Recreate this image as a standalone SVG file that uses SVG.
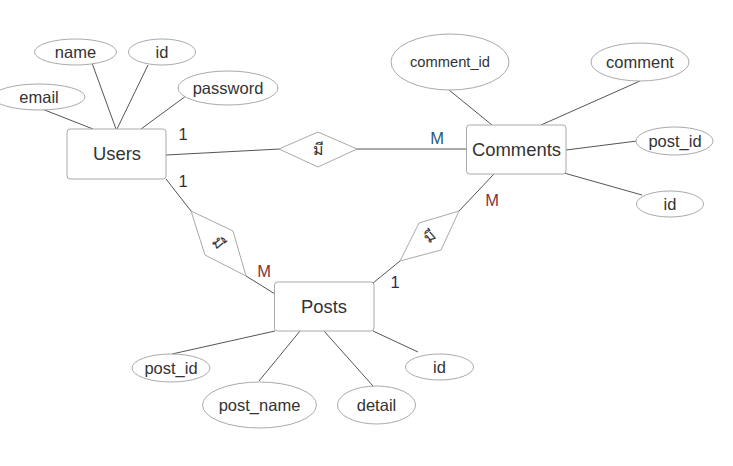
<svg xmlns="http://www.w3.org/2000/svg" width="733" height="466" viewBox="0 0 733 466">
<style>
text{font-family:"Liberation Sans",Arial,"Noto Sans",sans-serif;font-size:16.5px;fill:#333;text-anchor:middle;dominant-baseline:central}
.e{fill:#fff;stroke:#aaa;stroke-width:1}
.r{fill:#fff;stroke:#aaa;stroke-width:1}
.c line{stroke:#555;stroke-width:1}
.big{font-size:18.4px}
.th{font-size:16px}
</style>
<rect width="733" height="466" fill="#fff"/>
<g class="c" id="connectors">
<line x1="37" y1="107" x2="93" y2="129"/>
<line x1="92" y1="63" x2="116" y2="129"/>
<line x1="148" y1="65" x2="117" y2="129"/>
<line x1="190" y1="93" x2="141" y2="129"/>
<line x1="166" y1="155" x2="280" y2="149"/>
<line x1="356" y1="149" x2="466" y2="149"/>
<line x1="449" y1="90" x2="492" y2="125"/>
<line x1="640" y1="81" x2="541" y2="125"/>
<line x1="637" y1="141" x2="566" y2="150"/>
<line x1="642" y1="195" x2="564" y2="173"/>
<line x1="166" y1="179" x2="191" y2="211"/>
<line x1="246" y1="276" x2="275" y2="294"/>
<line x1="494" y1="174" x2="459" y2="211"/>
<line x1="400" y1="261" x2="373" y2="283"/>
<line x1="172" y1="354" x2="275" y2="331"/>
<line x1="259" y1="381" x2="300" y2="331"/>
<line x1="373" y1="386" x2="324" y2="331"/>
<line x1="418" y1="352" x2="373" y2="331"/>
</g>
<g id="users"><rect class="r" x="67" y="129" width="99" height="50" rx="3"/><text class="big" x="117" y="153.5">Users</text></g>
<g id="comments"><rect class="r" x="466.5" y="125" width="99.5" height="49" rx="3"/><text class="big" x="516.5" y="149.5">Comments</text></g>
<g id="posts"><rect class="r" x="274.5" y="282" width="99.5" height="49" rx="3"/><text class="big" x="324" y="306.5">Posts</text></g>
<g id="rel-has"><polygon class="r" points="279,149 318,132 357,149 318,167"/><text class="th" x="318" y="149">มี</text></g>
<g id="rel-writes"><polygon class="r" points="191,211 233,231 246,276 205,255"/><text class="th" transform="rotate(50 219 243)" x="219" y="243">มี</text></g>
<g id="rel-posts"><polygon class="r" points="459,211 419,223 400,261 441,250"/><text class="th" transform="rotate(-40 430 236)" x="430" y="236">มี</text></g>
<g id="a-email"><ellipse class="e" cx="39" cy="97" rx="46" ry="13"/><text x="39" y="97">email</text></g>
<g id="a-name"><ellipse class="e" cx="75.500" cy="52" rx="41" ry="13"/><text x="75.500" y="52">name</text></g>
<g id="a-id1"><ellipse class="e" cx="162" cy="52" rx="33.500" ry="13"/><text x="162" y="52">id</text></g>
<g id="a-password"><ellipse class="e" cx="228" cy="88" rx="50" ry="17"/><text x="228" y="88">password</text></g>
<g id="a-comment-id"><ellipse class="e" cx="450" cy="62" rx="59" ry="28"/><text x="450" y="62" style="font-size:14.700px">comment_id</text></g>
<g id="a-comment"><ellipse class="e" cx="640" cy="62" rx="49" ry="19"/><text x="640" y="62">comment</text></g>
<g id="a-post-id1"><ellipse class="e" cx="674.500" cy="141" rx="38.500" ry="14"/><text x="675" y="141">post_id</text></g>
<g id="a-id2"><ellipse class="e" cx="670" cy="204" rx="33.500" ry="13"/><text x="670" y="204">id</text></g>
<g id="a-post-id2"><ellipse class="e" cx="171" cy="368" rx="39" ry="14"/><text x="171" y="368">post_id</text></g>
<g id="a-post-name"><ellipse class="e" cx="259.500" cy="405" rx="57" ry="23"/><text x="259.500" y="405">post_name</text></g>
<g id="a-detail"><ellipse class="e" cx="376.500" cy="405" rx="39" ry="19"/><text x="376.500" y="405">detail</text></g>
<g id="a-id3"><ellipse class="e" cx="439.500" cy="367" rx="34" ry="13"/><text x="439.500" y="367">id</text></g>
<g id="labels">
<text x="183" y="134">1</text><text x="437" y="138" style="fill:#1f5a78">M</text><text x="183" y="180.500">1</text><text x="264" y="271" style="fill:#8a2f3a">M</text><text x="492" y="200" style="fill:#8a2f3a">M</text><text x="395" y="282" style="fill:#2a2a6a">1</text>
</g>
</svg>
